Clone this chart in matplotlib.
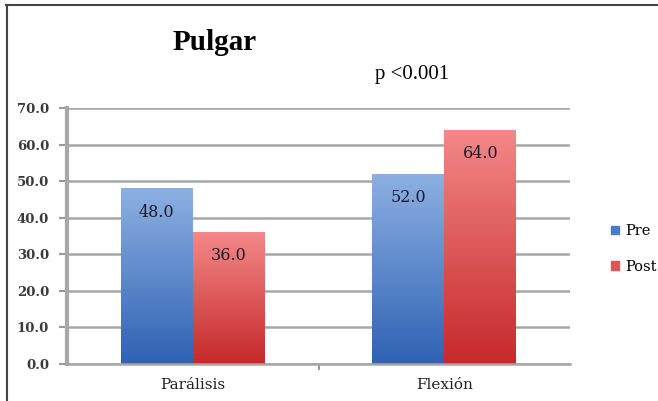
import numpy as np
import matplotlib.pyplot as plt
from matplotlib.colors import LinearSegmentedColormap
from matplotlib.patches import Patch

categories = ["Parálisis", "Flexión"]
pre = [48.0, 52.0]
post = [36.0, 64.0]
series_names = ["Pre", "Post"]
y_ticks = [0, 10, 20, 30, 40, 50, 60, 70]

plt.rcParams['font.family'] = ['DejaVu Serif']

fig = plt.figure(figsize=(6.58, 4.01), dpi=100)
ax = fig.add_axes([67 / 658, 37 / 401, 503 / 658, 256 / 401])

x = np.arange(len(categories))
w = 0.286

blue_cm = LinearSegmentedColormap.from_list("b", ["#2f62b4", "#8db0e2"])
red_cm = LinearSegmentedColormap.from_list("r", ["#c6292b", "#f48888"])
grad = np.linspace(0, 1, 256).reshape(-1, 1)


def shade(bars, cmap):
    for b in bars:
        x0, y0 = b.get_x(), b.get_y()
        x1, y1 = x0 + b.get_width(), y0 + b.get_height()
        im = ax.imshow(grad, cmap=cmap, aspect='auto', origin='lower',
                       extent=[x0, x1, y0, y1], zorder=2)
        im.set_clip_path(b)
        b.set_facecolor('none')


bars_pre = ax.bar(x - w / 2, pre, w, zorder=2, linewidth=0)
bars_post = ax.bar(x + w / 2, post, w, zorder=2, linewidth=0)
shade(bars_pre, blue_cm)
shade(bars_post, red_cm)

for bars, vals in [(bars_pre, pre), (bars_post, post)]:
    for b, v in zip(bars, vals):
        ax.annotate(f"{v:.1f}", (b.get_x() + b.get_width() / 2, v),
                    xytext=(0, -17), textcoords='offset points',
                    ha='center', va='center', fontsize=11.5,
                    color='#1c1c2c', zorder=4)

ax.set_xlim(-0.5, 1.5)
ax.set_ylim(0, 70)
ax.set_yticks(y_ticks)
ax.set_yticklabels([f"{t:.1f}" for t in y_ticks], fontsize=9.5, fontweight='bold',
                   color='#3a3a3a')
ax.set_xticks(x)
ax.set_xticklabels(categories, fontsize=11, color='#222222')
ax.tick_params(axis='x', length=0, pad=10)
ax.set_xticks([0.5], minor=True)
ax.tick_params(axis='x', which='minor', length=4, color='#888888', width=1.2)
ax.tick_params(axis='y', length=6, color='#999999', width=1.5, pad=7)
ax.grid(axis='y', color='#a6a6a6', linewidth=1.8, zorder=0)
ax.set_axisbelow(True)
for s in ['top', 'right']:
    ax.spines[s].set_visible(False)
ax.spines['left'].set_color('#a8a8a8')
ax.spines['left'].set_linewidth(3)
ax.spines['bottom'].set_color('#a6a6a6')
ax.spines['bottom'].set_linewidth(1.8)

handles = [Patch(color='#4a7cc8'), Patch(color='#e05456')]
fig.legend(handles, series_names, loc='center left',
           bbox_to_anchor=(598 / 658, 1 - 249 / 401), frameon=False,
           fontsize=10.5, handlelength=0.55, handleheight=0.55,
           handletextpad=0.4, labelspacing=1.5)

fig.text(215 / 658, 1 - 42 / 401, "Pulgar", fontsize=21, fontweight='bold',
         ha='center', va='center', family='Liberation Serif')
fig.text(412 / 658, 1 - 75 / 401, "p <0.001", fontsize=15,
         ha='center', va='center', family='Liberation Serif')

# outer frame (top and left edges only)
fig.add_artist(plt.Line2D([6 / 658, 1], [1 - 5 / 401, 1 - 5 / 401],
                          color='#444444', linewidth=1.5))
fig.add_artist(plt.Line2D([7 / 658, 7 / 658], [0, 1 - 5 / 401],
                          color='#444444', linewidth=1.5))

fig.savefig("out.png", dpi=100)
